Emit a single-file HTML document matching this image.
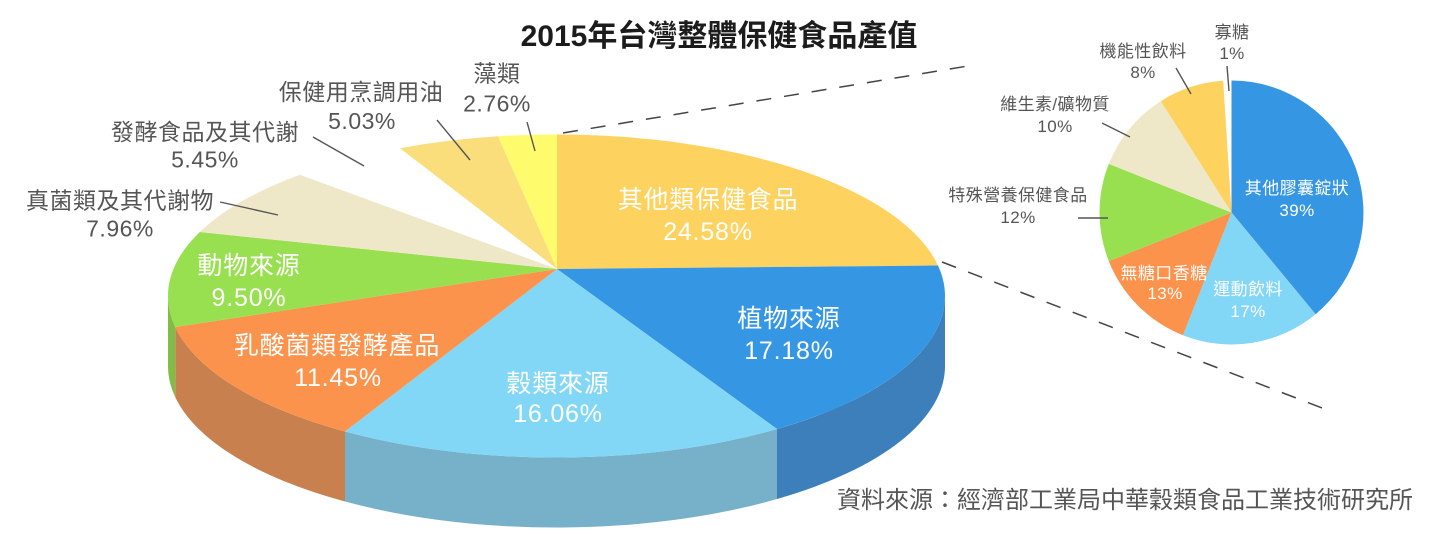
<!DOCTYPE html>
<html>
<head>
<meta charset="utf-8">
<style>
  html, body { margin: 0; padding: 0; background: #fff; }
  svg { display: block; }
  .f { font-family: "Liberation Sans", "Noto Sans CJK TC", sans-serif; }
  .title { font-size: 30px; font-weight: bold; fill: #1c1c1c; }
  .out { font-size: 23px; fill: #555; letter-spacing: 0.5px; }
  .in { font-size: 25px; fill: #fff; letter-spacing: 0.8px; }
  .sm { font-size: 17px; fill: #555; letter-spacing: 0.4px; }
  .smw { font-size: 17px; fill: #fff; letter-spacing: 0.4px; }
  .src { font-size: 24px; fill: #555; }
</style>
</head>
<body>
<svg width="1440" height="534" viewBox="0 0 1440 534" xmlns="http://www.w3.org/2000/svg">
  <rect width="1440" height="534" fill="#fff"/>

  <!-- 3D pie sides -->
  <path d="M945,296 A388.5,161.5 0 0 1 777,429 L777,499 A388.5,161.5 0 0 0 945,366 Z" fill="#3c7fba"/>
  <path d="M777,429 A388.5,161.5 0 0 1 345,431.5 L345,501.5 A388.5,161.5 0 0 0 777,499 Z" fill="#76b0c9"/>
  <path d="M345,431.5 A388.5,161.5 0 0 1 175.2,327 L175.2,397 A388.5,161.5 0 0 0 345,501.5 Z" fill="#c9804f"/>
  <path d="M175.2,327 A388.5,161.5 0 0 1 168,296 L168,366 A388.5,161.5 0 0 0 175.2,397 Z" fill="#7fbd45"/>

  <!-- 3D pie top face -->
  <path d="M557,269 L557,134.5 A388.5,161.5 0 0 1 938,265.5 Z" fill="#fdd25f"/>
  <path d="M557,269 L938,265.5 A388.5,161.5 0 0 1 777,429 Z" fill="#3596e4"/>
  <path d="M557,269 L777,429 A388.5,161.5 0 0 1 345,431.5 Z" fill="#82d6f6"/>
  <path d="M557,269 L345,431.5 A388.5,161.5 0 0 1 175.2,327 Z" fill="#fc934c"/>
  <path d="M557,269 L175.2,327 A388.5,161.5 0 0 1 199.8,232 Z" fill="#98e04f"/>
  <path d="M557,269 L199.8,232 A388.5,161.5 0 0 1 300,174.7 Z" fill="#efe8c8"/>
  <path d="M557,269 L300,174.7 A388.5,161.5 0 0 1 400,148.2 Z" fill="#ffffff"/>
  <path d="M557,269 L400,148.2 A388.5,161.5 0 0 1 498,136.3 Z" fill="#f9de7b"/>
  <path d="M557,269 L498,136.3 A388.5,161.5 0 0 1 557,134.5 Z" fill="#fefb6d"/>

  <!-- dashed connectors -->
  <line x1="563" y1="133" x2="968" y2="66" stroke="#444" stroke-width="1.5" stroke-dasharray="15 13"/>
  <line x1="942" y1="262" x2="1330" y2="411" stroke="#444" stroke-width="1.5" stroke-dasharray="15 13"/>

  <!-- small pie -->
  <path d="M1231.5,212.5 L1231.5,80.5 A132,132 0 0 1 1315.6,314.2 Z" fill="#3596e4"/>
  <path d="M1231.5,212.5 L1315.6,314.2 A132,132 0 0 1 1182.9,335.2 Z" fill="#82d6f6"/>
  <path d="M1231.5,212.5 L1182.9,335.2 A132,132 0 0 1 1108.8,261.1 Z" fill="#fc934c"/>
  <path d="M1231.5,212.5 L1108.8,261.1 A132,132 0 0 1 1108.8,163.9 Z" fill="#98e04f"/>
  <path d="M1231.5,212.5 L1108.8,163.9 A132,132 0 0 1 1160.8,101.1 Z" fill="#efe8c8"/>
  <path d="M1231.5,212.5 L1160.8,101.1 A132,132 0 0 1 1223.2,80.8 Z" fill="#fdd25f"/>

  <!-- leader lines -->
  <g stroke="#555" stroke-width="1.4" fill="none">
    <line x1="220" y1="202" x2="278" y2="215"/>
    <line x1="313" y1="137" x2="364" y2="166"/>
    <line x1="437" y1="120" x2="470" y2="160"/>
    <line x1="527" y1="122" x2="535" y2="151"/>
    <line x1="1078" y1="218" x2="1108" y2="218"/>
    <line x1="1102" y1="123" x2="1130" y2="137"/>
    <line x1="1176" y1="68" x2="1191" y2="94"/>
    <line x1="1227" y1="66" x2="1229" y2="91"/>
  </g>

  <!-- title -->
  <text class="f title" x="719" y="46" text-anchor="middle">2015年台灣整體保健食品產值</text>

  <!-- outside labels -->
  <text class="f out" x="497" y="81.5" text-anchor="middle">藻類</text>
  <text class="f out" x="497" y="111.5" text-anchor="middle">2.76%</text>
  <text class="f out" x="361" y="100" text-anchor="middle">保健用烹調用油</text>
  <text class="f out" x="362" y="129" text-anchor="middle">5.03%</text>
  <text class="f out" x="205" y="140" text-anchor="middle">發酵食品及其代謝</text>
  <text class="f out" x="205" y="167.5" text-anchor="middle">5.45%</text>
  <text class="f out" x="120" y="208.5" text-anchor="middle">真菌類及其代謝物</text>
  <text class="f out" x="120" y="236.5" text-anchor="middle">7.96%</text>

  <!-- inside labels -->
  <text class="f in" x="708" y="208" text-anchor="middle">其他類保健食品</text>
  <text class="f in" x="708" y="240" text-anchor="middle">24.58%</text>
  <text class="f in" x="789" y="327" text-anchor="middle">植物來源</text>
  <text class="f in" x="789" y="359" text-anchor="middle">17.18%</text>
  <text class="f in" x="558" y="392" text-anchor="middle">穀類來源</text>
  <text class="f in" x="558" y="422" text-anchor="middle">16.06%</text>
  <text class="f in" x="337" y="354" text-anchor="middle">乳酸菌類發酵產品</text>
  <text class="f in" x="338" y="386" text-anchor="middle">11.45%</text>
  <text class="f in" x="249" y="274" text-anchor="middle">動物來源</text>
  <text class="f in" x="249" y="306" text-anchor="middle">9.50%</text>

  <!-- small pie labels -->
  <text class="f smw" x="1297" y="194" text-anchor="middle">其他膠囊錠狀</text>
  <text class="f smw" x="1297" y="216" text-anchor="middle">39%</text>
  <text class="f smw" x="1248" y="295" text-anchor="middle">運動飲料</text>
  <text class="f smw" x="1248" y="317" text-anchor="middle">17%</text>
  <text class="f smw" x="1164" y="279" text-anchor="middle">無糖口香糖</text>
  <text class="f smw" x="1165" y="299" text-anchor="middle">13%</text>
  <text class="f sm" x="1018" y="201" text-anchor="middle">特殊營養保健食品</text>
  <text class="f sm" x="1018" y="223" text-anchor="middle">12%</text>
  <text class="f sm" x="1055" y="110" text-anchor="middle">維生素/礦物質</text>
  <text class="f sm" x="1055" y="132" text-anchor="middle">10%</text>
  <text class="f sm" x="1143" y="57" text-anchor="middle">機能性飲料</text>
  <text class="f sm" x="1143" y="78" text-anchor="middle">8%</text>
  <text class="f sm" x="1232" y="38" text-anchor="middle">寡糖</text>
  <text class="f sm" x="1232" y="59" text-anchor="middle">1%</text>

  <!-- source -->
  <text class="f src" x="1413" y="508" text-anchor="end">資料來源：經濟部工業局中華穀類食品工業技術研究所</text>
</svg>
</body>
</html>
